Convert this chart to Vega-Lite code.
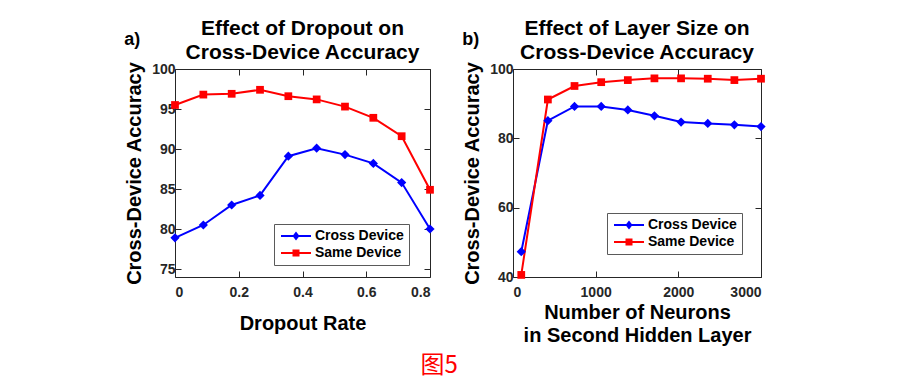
{
  "$schema": "https://vega.github.io/schema/vega-lite/v6.json",
  "background": "white",
  "padding": {"left": 124, "top": 17, "right": 5, "bottom": 5},
  "datasets": {
    "dropout": [
      {"rate": 0, "series": "Cross Device", "acc": 78.9},
      {"rate": 0.0889, "series": "Cross Device", "acc": 80.5},
      {"rate": 0.1778, "series": "Cross Device", "acc": 83.0},
      {"rate": 0.2667, "series": "Cross Device", "acc": 84.2},
      {"rate": 0.3556, "series": "Cross Device", "acc": 89.1},
      {"rate": 0.4444, "series": "Cross Device", "acc": 90.1},
      {"rate": 0.5333, "series": "Cross Device", "acc": 89.3},
      {"rate": 0.6222, "series": "Cross Device", "acc": 88.2},
      {"rate": 0.7111, "series": "Cross Device", "acc": 85.8},
      {"rate": 0.8, "series": "Cross Device", "acc": 80.0},
      {"rate": 0, "series": "Same Device", "acc": 95.5},
      {"rate": 0.0889, "series": "Same Device", "acc": 96.8},
      {"rate": 0.1778, "series": "Same Device", "acc": 96.9},
      {"rate": 0.2667, "series": "Same Device", "acc": 97.4},
      {"rate": 0.3556, "series": "Same Device", "acc": 96.6},
      {"rate": 0.4444, "series": "Same Device", "acc": 96.2},
      {"rate": 0.5333, "series": "Same Device", "acc": 95.3},
      {"rate": 0.6222, "series": "Same Device", "acc": 93.9},
      {"rate": 0.7111, "series": "Same Device", "acc": 91.6},
      {"rate": 0.8, "series": "Same Device", "acc": 84.9}
    ],
    "layersize": [
      {"neurons": 100, "series": "Cross Device", "acc": 47.3},
      {"neurons": 422, "series": "Cross Device", "acc": 85.1},
      {"neurons": 744, "series": "Cross Device", "acc": 89.2},
      {"neurons": 1067, "series": "Cross Device", "acc": 89.2},
      {"neurons": 1389, "series": "Cross Device", "acc": 88.2},
      {"neurons": 1711, "series": "Cross Device", "acc": 86.5},
      {"neurons": 2033, "series": "Cross Device", "acc": 84.7},
      {"neurons": 2356, "series": "Cross Device", "acc": 84.3},
      {"neurons": 2678, "series": "Cross Device", "acc": 83.9},
      {"neurons": 3000, "series": "Cross Device", "acc": 83.4},
      {"neurons": 100, "series": "Same Device", "acc": 40.6},
      {"neurons": 422, "series": "Same Device", "acc": 91.2},
      {"neurons": 744, "series": "Same Device", "acc": 95.1},
      {"neurons": 1067, "series": "Same Device", "acc": 96.2},
      {"neurons": 1389, "series": "Same Device", "acc": 96.8},
      {"neurons": 1711, "series": "Same Device", "acc": 97.3},
      {"neurons": 2033, "series": "Same Device", "acc": 97.3},
      {"neurons": 2356, "series": "Same Device", "acc": 97.2},
      {"neurons": 2678, "series": "Same Device", "acc": 96.8},
      {"neurons": 3000, "series": "Same Device", "acc": 97.2}
    ]
  },
  "title": {
    "text": "图5", "orient": "bottom", "anchor": "middle", "color": "#ff0000",
    "font": "Noto Sans CJK SC", "fontSize": 24, "fontWeight": "normal", "offset": 8, "dx": -6
  },
  "config": {
    "font": "Liberation Sans",
    "view": {"stroke": "#262626", "strokeWidth": 1},
    "axis": {
      "grid": false, "domain": false,
      "labelFont": "Liberation Sans", "labelFontWeight": "bold", "labelFontSize": 14, "labelColor": "#262626",
      "tickColor": "#262626", "tickSize": -6, "tickWidth": 1,
      "titleFont": "Liberation Sans", "titleFontWeight": "bold", "titleFontSize": 20, "titleColor": "#000000"
    },
    "axisX": {"labelPadding": 14},
    "axisY": {"labelPadding": 6},
    "legend": {
      "orient": "none", "title": null,
      "strokeColor": "#5a5a5a", "fillColor": "white", "padding": 5,
      "labelFont": "Liberation Sans", "labelFontWeight": "bold", "labelFontSize": 14, "labelColor": "#000000",
      "symbolSize": 100, "symbolOffset": 10, "labelOffset": 12, "rowPadding": 3, "symbolStrokeWidth": 0
    },
    "concat": {"spacing": 26}
  },
  "resolve": {
    "scale": {"color": "independent", "shape": "independent"},
    "legend": {"color": "independent", "shape": "independent"}
  },
  "hconcat": [
    {
      "title": {"text": "a)", "anchor": "start", "fontSize": 18, "fontWeight": "bold", "font": "Liberation Sans", "dy": 31, "dx": 0, "offset": 0},
      "vconcat": [
        {
          "width": 255, "height": 208,
          "title": {"text": ["Effect of Dropout on", "Cross-Device Accuracy"], "font": "Liberation Sans", "fontSize": 21, "fontWeight": "bold", "lineHeight": 24, "offset": -2, "color": "#000000"},
          "data": {"name": "dropout"},
          "resolve": {"axis": {"x": "independent", "y": "independent"}},
          "layer": [
            {"mark": {"type": "line", "strokeWidth": 2},
              "encoding": {
                "x": {"field": "rate", "type": "quantitative", "title": "Dropout Rate", "scale": {"domain": [0, 0.8]}, "axis": {"values": [0, 0.2, 0.4, 0.6, 0.8], "format": "~g", "titlePadding": 14}},
                "y": {"field": "acc", "type": "quantitative", "title": "Cross-Device Accuracy", "scale": {"domain": [75, 100]}, "axis": {"values": [75, 80, 85, 90, 95, 100], "titlePadding": 7}},
                "color": {"field": "series", "type": "nominal", "scale": {"domain": ["Cross Device", "Same Device"], "range": ["#0000ff", "#ff0000"]}, "legend": {"legendX": 99, "legendY": 155}}
              }},
            {"transform": [{"filter": "datum.series === 'Cross Device'"}],
              "mark": {"type": "point", "filled": true, "opacity": 1, "shape": "diamond", "size": 85, "color": "#0000ff"},
              "encoding": {
                "x": {"field": "rate", "type": "quantitative", "axis": {"orient": "top", "values": [0, 0.2, 0.4, 0.6, 0.8], "labels": false, "title": null}},
                "y": {"field": "acc", "type": "quantitative", "axis": {"orient": "right", "values": [75, 80, 85, 90, 95, 100], "labels": false, "title": null}}
              }},
            {"transform": [{"filter": "datum.series === 'Same Device'"}],
              "mark": {"type": "point", "filled": true, "opacity": 1, "shape": "square", "size": 60, "color": "#ff0000"},
              "encoding": {
                "x": {"field": "rate", "type": "quantitative", "axis": null},
                "y": {"field": "acc", "type": "quantitative", "axis": null}
              }},
            {"transform": [{"filter": "datum.acc < 0"}],
              "mark": {"type": "point", "filled": true, "opacity": 1},
              "encoding": {
                "x": {"field": "rate", "type": "quantitative", "axis": null},
                "y": {"field": "acc", "type": "quantitative", "axis": null},
                "color": {"field": "series", "type": "nominal", "legend": {"legendX": 99, "legendY": 155}},
                "shape": {"field": "series", "type": "nominal", "scale": {"domain": ["Cross Device", "Same Device"], "range": ["M-3,-0.2H3V0.2H-3Z M0,-0.9L0.7,0L0,0.9L-0.7,0Z", "M-3,-0.2H3V0.2H-3Z M-0.7,-0.7H0.7V0.7H-0.7Z"]}, "legend": {"legendX": 99, "legendY": 155}}
              }}
          ]
        }
      ]
    },
    {
      "title": {"text": "b)", "anchor": "start", "fontSize": 18, "fontWeight": "bold", "font": "Liberation Sans", "dy": 31, "dx": 0, "offset": 0},
      "vconcat": [
        {
          "width": 248, "height": 208,
          "title": {"text": ["Effect of Layer Size on", "Cross-Device Accuracy"], "font": "Liberation Sans", "fontSize": 21, "fontWeight": "bold", "lineHeight": 24, "offset": -2, "color": "#000000"},
          "data": {"name": "layersize"},
          "resolve": {"axis": {"x": "independent", "y": "independent"}},
          "layer": [
            {"mark": {"type": "line", "strokeWidth": 2},
              "encoding": {
                "x": {"field": "neurons", "type": "quantitative", "title": ["Number of Neurons", "in Second Hidden Layer"], "scale": {"domain": [0, 3000]}, "axis": {"values": [0, 1000, 2000, 3000], "format": "d", "titlePadding": 3, "titleLineHeight": 23}},
                "y": {"field": "acc", "type": "quantitative", "title": "Cross-Device Accuracy", "scale": {"domain": [40, 100]}, "axis": {"values": [40, 60, 80, 100], "titlePadding": 7}},
                "color": {"field": "series", "type": "nominal", "scale": {"domain": ["Cross Device", "Same Device"], "range": ["#0000ff", "#ff0000"]}, "legend": {"legendX": 94, "legendY": 144}}
              }},
            {"transform": [{"filter": "datum.series === 'Cross Device'"}],
              "mark": {"type": "point", "filled": true, "opacity": 1, "shape": "diamond", "size": 85, "color": "#0000ff"},
              "encoding": {
                "x": {"field": "neurons", "type": "quantitative", "axis": {"orient": "top", "values": [0, 1000, 2000, 3000], "labels": false, "title": null}},
                "y": {"field": "acc", "type": "quantitative", "axis": {"orient": "right", "values": [40, 60, 80, 100], "labels": false, "title": null}}
              }},
            {"transform": [{"filter": "datum.series === 'Same Device'"}],
              "mark": {"type": "point", "filled": true, "opacity": 1, "shape": "square", "size": 60, "color": "#ff0000"},
              "encoding": {
                "x": {"field": "neurons", "type": "quantitative", "axis": null},
                "y": {"field": "acc", "type": "quantitative", "axis": null}
              }},
            {"transform": [{"filter": "datum.acc < 0"}],
              "mark": {"type": "point", "filled": true, "opacity": 1},
              "encoding": {
                "x": {"field": "neurons", "type": "quantitative", "axis": null},
                "y": {"field": "acc", "type": "quantitative", "axis": null},
                "color": {"field": "series", "type": "nominal", "legend": {"legendX": 94, "legendY": 144}},
                "shape": {"field": "series", "type": "nominal", "scale": {"domain": ["Cross Device", "Same Device"], "range": ["M-3,-0.2H3V0.2H-3Z M0,-0.9L0.7,0L0,0.9L-0.7,0Z", "M-3,-0.2H3V0.2H-3Z M-0.7,-0.7H0.7V0.7H-0.7Z"]}, "legend": {"legendX": 94, "legendY": 144}}
              }}
          ]
        }
      ]
    }
  ]
}
